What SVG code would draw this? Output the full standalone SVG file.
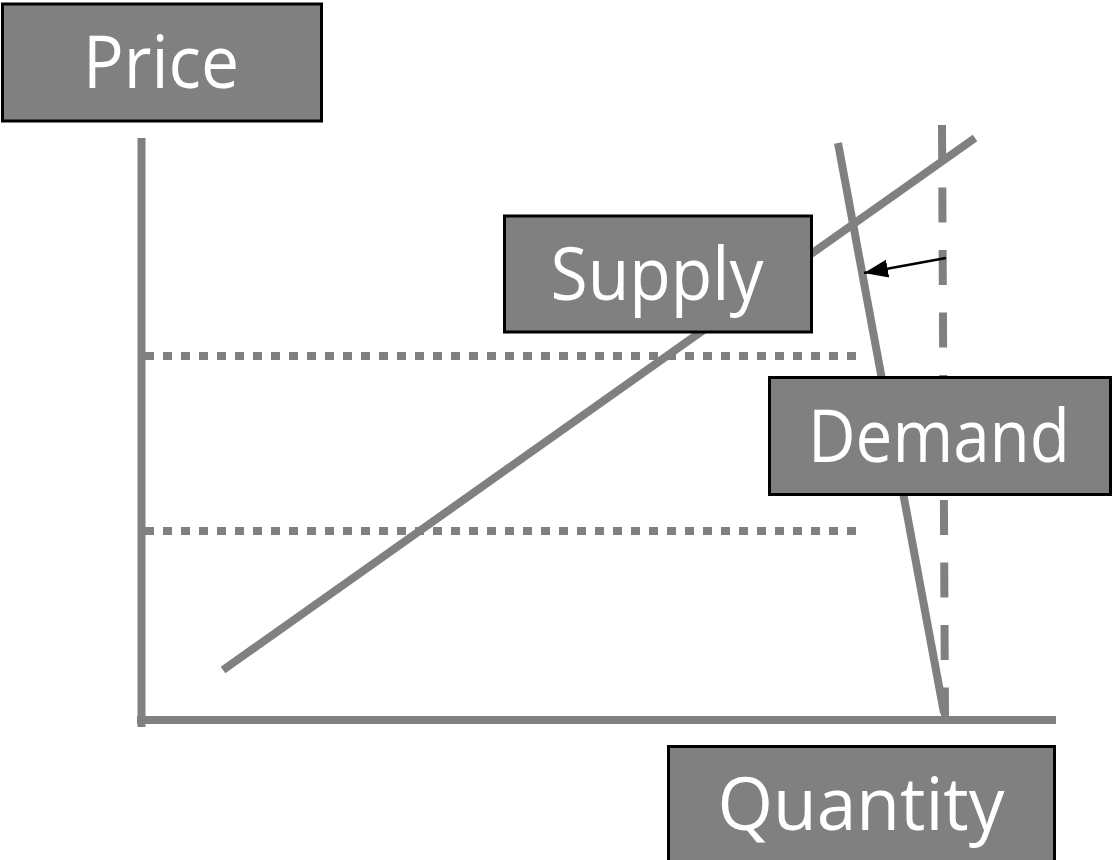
<svg xmlns="http://www.w3.org/2000/svg" width="1115" height="860" viewBox="0 0 1115 860">
<style>
.bg{fill:#ffffff}
.axis{stroke:#808080;stroke-width:8;fill:none}
.curve{stroke:#808080;stroke-width:8;fill:none}
.dotted{stroke:#808080;stroke-width:8;stroke-dasharray:9 9;fill:none}
.dashed{stroke:#808080;stroke-width:8;stroke-dasharray:35 27.5;fill:none}
.shift{stroke:#000000;stroke-width:2.6;fill:none}
.box{fill:#808080;stroke:#000000;stroke-width:3}
.label{fill:#ffffff;font-family:"Open Sans","Noto Sans","DejaVu Sans",sans-serif;font-size:73px;text-anchor:middle}
</style>
<defs>
<marker id="arrowhead" markerUnits="userSpaceOnUse" markerWidth="26" markerHeight="22" viewBox="0 0 26 22" refX="24" refY="11" orient="auto">
<path d="M0,2 L24,11 L0,20 Z" fill="#000000"/>
</marker>
</defs>
<rect class="bg" x="0" y="0" width="1115" height="860"/>
<g id="connectors">
<line class="axis" x1="141.5" y1="138" x2="141.5" y2="727"/>
<line class="axis" x1="137" y1="720" x2="1056" y2="720"/>
<line class="dotted" x1="145" y1="356" x2="858" y2="356"/>
<line class="dotted" x1="145" y1="531" x2="858" y2="531"/>
<line class="curve" x1="223" y1="670" x2="975" y2="138"/>
<line class="dashed" x1="942" y1="125" x2="945" y2="717"/>
<line class="curve" x1="838" y1="143" x2="944" y2="713"/>
<line class="shift" x1="946" y1="258" x2="864" y2="273" marker-end="url(#arrowhead)"/>
</g>
<g id="node-price">
<rect class="box" x="2.5" y="4" width="319" height="117"/>
<text class="label" x="161" y="88" textLength="156" lengthAdjust="spacingAndGlyphs">Price</text>
</g>
<g id="node-supply">
<rect class="box" x="504.5" y="216" width="307" height="116"/>
<text class="label" x="657" y="300" textLength="213" lengthAdjust="spacingAndGlyphs">Supply</text>
</g>
<g id="node-demand">
<rect class="box" x="769.5" y="377.5" width="341" height="117"/>
<text class="label" x="939" y="462" textLength="262" lengthAdjust="spacingAndGlyphs">Demand</text>
</g>
<g id="node-quantity">
<rect class="box" x="668.5" y="746.5" width="386" height="120"/>
<text class="label" x="861" y="830" textLength="287" lengthAdjust="spacingAndGlyphs">Quantity</text>
</g>
</svg>
